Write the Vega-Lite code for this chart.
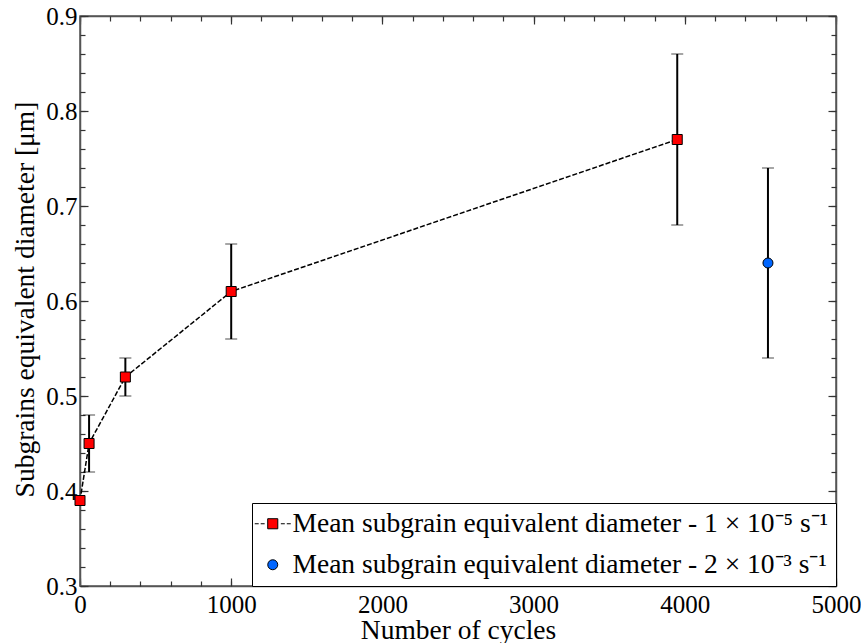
{
  "$schema": "https://vega.github.io/schema/vega-lite/v6.json",
  "width": 756,
  "height": 570,
  "autosize": {"type": "none"},
  "padding": {"left": 80, "top": 16, "right": 25, "bottom": 57},
  "background": "white",
  "config": {
    "font": "Liberation Serif",
    "view": {"stroke": "#555", "strokeWidth": 1.5},
    "axis": {
      "grid": false,
      "labelFont": "Liberation Serif",
      "titleFont": "Liberation Serif",
      "labelFontSize": 25,
      "titleFontSize": 27.5,
      "titleFontWeight": "normal",
      "labelColor": "black",
      "titleColor": "black",
      "tickColor": "#333",
      "domainColor": "#555",
      "domainWidth": 1.5,
      "tickWidth": 1.2,
      "labelFlush": false,
      "labelOverlap": false
    },
    "legend": {
      "labelFont": "Liberation Serif",
      "labelFontSize": 27.5,
      "labelColor": "black",
      "labelLimit": 0
    }
  },
  "datasets": {
    "pts": [
      {"cycles": 0, "d": 0.39, "lo": null, "hi": null, "series": "a"},
      {"cycles": 60, "d": 0.45, "lo": 0.42, "hi": 0.48, "series": "a"},
      {"cycles": 300, "d": 0.52, "lo": 0.50, "hi": 0.54, "series": "a"},
      {"cycles": 1000, "d": 0.61, "lo": 0.56, "hi": 0.66, "series": "a"},
      {"cycles": 3950, "d": 0.77, "lo": 0.68, "hi": 0.86, "series": "a"},
      {"cycles": 4550, "d": 0.64, "lo": 0.54, "hi": 0.74, "series": "b"}
    ]
  },
  "data": {"name": "pts"},
  "resolve": {"axis": {"x": "independent", "y": "independent"}},
  "layer": [
    {
      "transform": [{"filter": "datum.lo != null"}],
      "mark": {
        "type": "errorbar",
        "ticks": {"size": 12, "color": "black", "strokeWidth": 2},
        "rule": {"color": "black", "strokeWidth": 2}
      },
      "encoding": {
        "x": {"field": "cycles", "type": "quantitative", "scale": {"domain": [0, 5000], "nice": false, "zero": false}, "axis": null},
        "y": {"field": "lo", "type": "quantitative", "scale": {"domain": [0.3, 0.9], "nice": false, "zero": false}, "axis": null},
        "y2": {"field": "hi"}
      }
    },
    {
      "transform": [{"filter": "datum.series == 'a'"}],
      "mark": {"type": "line", "color": "black", "strokeWidth": 1.5, "strokeDash": [5, 2]},
      "encoding": {
        "x": {"field": "cycles", "type": "quantitative", "scale": {"domain": [0, 5000], "nice": false, "zero": false}, "axis": null},
        "y": {"field": "d", "type": "quantitative", "scale": {"domain": [0.3, 0.9], "nice": false, "zero": false}, "axis": null}
      }
    },
    {
      "transform": [{"filter": "datum.series == 'a'"}],
      "mark": {"type": "point", "shape": "square", "filled": true, "size": 100, "fill": "#ff0000", "stroke": "black", "strokeWidth": 1, "opacity": 1},
      "encoding": {
        "x": {
          "field": "cycles", "type": "quantitative",
          "scale": {"domain": [0, 5000], "nice": false, "zero": false},
          "axis": {
            "orient": "bottom", "values": [0, 1000, 2000, 3000, 4000, 5000], "format": "d",
            "tickSize": -8, "labelPadding": 14, "domain": true,
            "title": "Number of cycles", "titleX": 378, "titleY": 52,
            "titleBaseline": "alphabetic", "titleAlign": "center"
          }
        },
        "y": {
          "field": "d", "type": "quantitative",
          "scale": {"domain": [0.3, 0.9], "nice": false, "zero": false},
          "axis": {
            "orient": "left", "values": [0.3, 0.4, 0.5, 0.6, 0.7, 0.8, 0.9], "format": ".1f",
            "tickSize": -8, "labelPadding": 11, "domain": true,
            "title": "Subgrains equivalent diameter [μm]", "titleX": -47, "titleY": 283,
            "titleAngle": -90, "titleBaseline": "alphabetic", "titleAlign": "center"
          }
        }
      }
    },
    {
      "transform": [{"filter": "datum.series == 'b'"}],
      "mark": {"type": "point", "shape": "circle", "filled": true, "size": 100, "fill": "#0066ff", "stroke": "black", "strokeWidth": 1, "opacity": 1},
      "encoding": {
        "x": {"field": "cycles", "type": "quantitative", "scale": {"domain": [0, 5000], "nice": false, "zero": false}, "axis": null},
        "y": {"field": "d", "type": "quantitative", "scale": {"domain": [0.3, 0.9], "nice": false, "zero": false}, "axis": null}
      }
    },
    {
      "mark": {"type": "point", "filled": true, "opacity": 0},
      "encoding": {
        "x": {"field": "cycles", "type": "quantitative", "scale": {"domain": [0, 5000], "nice": false, "zero": false}, "axis": null},
        "y": {"field": "d", "type": "quantitative", "scale": {"domain": [0.3, 0.9], "nice": false, "zero": false}, "axis": null},
        "color": {
          "field": "series", "type": "nominal",
          "scale": {"domain": ["a", "b"], "range": ["#ff0000", "#0066ff"]},
          "legend": {
            "title": null,
            "orient": "bottom-right",
            "offset": 0,
            "strokeColor": "black",
            "fillColor": "white",
            "padding": 7,
            "rowPadding": 12,
            "symbolSize": 1296,
            "labelOffset": 6,
            "labelLimit": 0,
            "labelExpr": "datum.value == 'a' ? 'Mean subgrain equivalent diameter - 1 × 10⁻⁵ s⁻¹\u00a0' : 'Mean subgrain equivalent diameter - 2 × 10⁻³ s⁻¹\u00a0'",
            "encoding": {
              "symbols": {
                "shape": {"value": {"expr": "datum.value == 'a' ? 'M-1,0H-0.78M-0.67,0H-0.45M0.45,0H0.67M0.78,0H1M-0.28,-0.28H0.28V0.28H-0.28Z' : 'circle'"}},
                "size": {"value": {"expr": "datum.value == 'a' ? 1296 : 100"}},
                "stroke": {"value": "black"},
                "strokeWidth": {"value": 1},
                "opacity": {"value": 1}
              }
            }
          }
        }
      }
    },
    {
      "mark": {"type": "point", "opacity": 0},
      "encoding": {
        "x": {
          "field": "cycles", "type": "quantitative",
          "scale": {"domain": [0, 5000], "nice": false, "zero": false},
          "axis": {"orient": "top", "values": [0, 1000, 2000, 3000, 4000, 5000], "labels": false, "tickSize": -8, "domain": true, "title": null}
        },
        "y": {
          "field": "d", "type": "quantitative",
          "scale": {"domain": [0.3, 0.9], "nice": false, "zero": false},
          "axis": {"orient": "right", "values": [0.3, 0.4, 0.5, 0.6, 0.7, 0.8, 0.9], "labels": false, "tickSize": -8, "domain": true, "title": null}
        }
      }
    },
    {
      "mark": {"type": "point", "opacity": 0},
      "encoding": {
        "x": {
          "field": "cycles", "type": "quantitative",
          "scale": {"domain": [0, 5000], "nice": false, "zero": false},
          "axis": {"orient": "bottom", "tickCount": 25, "labels": false, "tickSize": -5, "domain": false, "title": null}
        },
        "y": {
          "field": "d", "type": "quantitative",
          "scale": {"domain": [0.3, 0.9], "nice": false, "zero": false},
          "axis": {"orient": "left", "tickCount": 30, "labels": false, "tickSize": -5, "domain": false, "title": null}
        }
      }
    },
    {
      "mark": {"type": "point", "opacity": 0},
      "encoding": {
        "x": {
          "field": "cycles", "type": "quantitative",
          "scale": {"domain": [0, 5000], "nice": false, "zero": false},
          "axis": {"orient": "top", "tickCount": 25, "labels": false, "tickSize": -5, "domain": false, "title": null}
        },
        "y": {
          "field": "d", "type": "quantitative",
          "scale": {"domain": [0.3, 0.9], "nice": false, "zero": false},
          "axis": {"orient": "right", "tickCount": 30, "labels": false, "tickSize": -5, "domain": false, "title": null}
        }
      }
    }
  ]
}
